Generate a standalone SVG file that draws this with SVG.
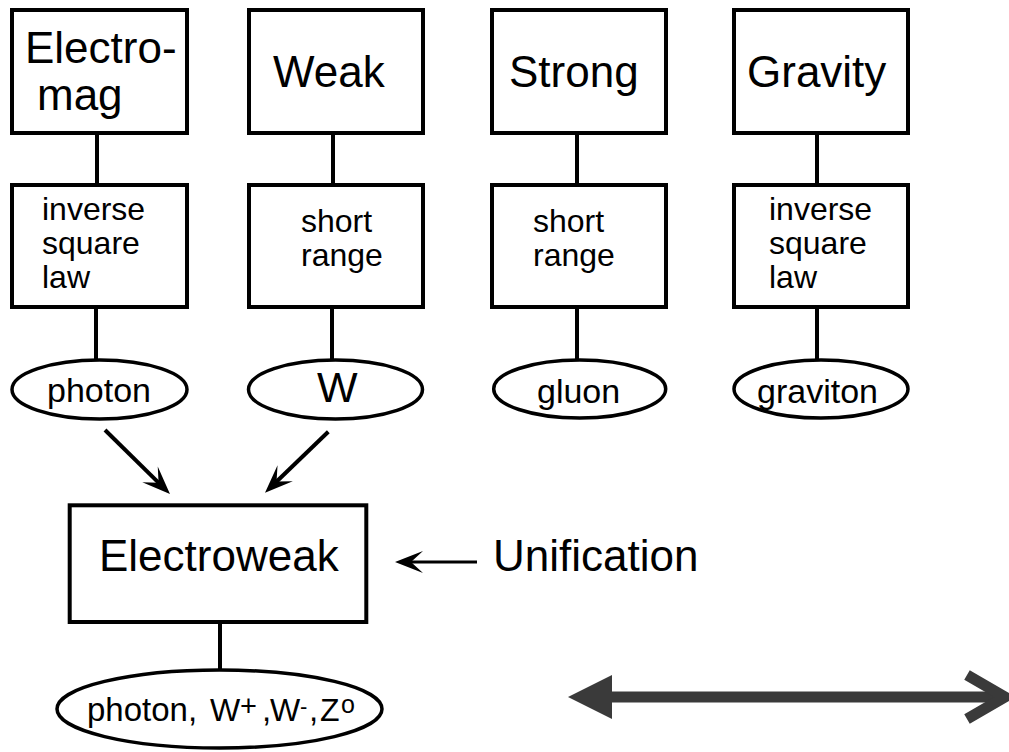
<svg xmlns="http://www.w3.org/2000/svg" width="1009" height="752" viewBox="0 0 1009 752">
  <style>
    text { font-family: "Liberation Sans", Arial, sans-serif; fill: #000; }
    .box { fill: #fff; stroke: #000; stroke-width: 4; }
    .oval { fill: #fff; stroke: #000; stroke-width: 3.5; }
    .link { stroke: #000; stroke-width: 4; fill: none; }
    .arrow { stroke: #000; stroke-width: 4; fill: none; marker-end: url(#head); }
    .title { font-size: 44px; }
    .note { font-size: 32px; }
    .particle { font-size: 34px; }
    .scale { stroke: #3a3a3a; stroke-width: 11; fill: none; }
  </style>
  <defs>
    <marker id="head" markerUnits="userSpaceOnUse" viewBox="-30 -12 32 24" markerWidth="32" markerHeight="24" refX="-14" refY="0" orient="auto">
      <path d="M0,0 L-28,-11 L-16,0 L-28,11 Z" fill="#000"/>
    </marker>
  </defs>

  <rect width="1009" height="752" fill="#fff"/>

  <!-- connectors -->
  <g id="connectors">
    <line class="link" x1="97" y1="133" x2="97" y2="185"/>
    <line class="link" x1="333" y1="133" x2="333" y2="185"/>
    <line class="link" x1="577" y1="133" x2="577" y2="185"/>
    <line class="link" x1="817" y1="133" x2="817" y2="185"/>
    <line class="link" x1="96" y1="307" x2="96" y2="360"/>
    <line class="link" x1="332" y1="307" x2="332" y2="360"/>
    <line class="link" x1="577" y1="307" x2="577" y2="360"/>
    <line class="link" x1="817" y1="307" x2="817" y2="360"/>
    <line class="link" x1="220" y1="622" x2="220" y2="670"/>
    <line class="arrow" x1="105" y1="430" x2="160" y2="484.2"/>
    <line class="arrow" x1="328.3" y1="431.7" x2="275.1" y2="483"/>
    <line class="arrow" x1="477" y1="562" x2="409" y2="562" style="stroke-width:3"/>
  </g>

  <!-- force boxes -->
  <g id="electromag">
    <rect class="box" x="12" y="10" width="175" height="123"/>
    <text class="title" x="25" y="63">Electro-</text>
    <text class="title" x="37" y="110">mag</text>
  </g>
  <g id="weak">
    <rect class="box" x="249" y="10" width="174" height="123"/>
    <text class="title" x="273" y="87">Weak</text>
  </g>
  <g id="strong">
    <rect class="box" x="492" y="10" width="174" height="123"/>
    <text class="title" x="509" y="87">Strong</text>
  </g>
  <g id="gravity">
    <rect class="box" x="734" y="10" width="174" height="123"/>
    <text class="title" x="747" y="87">Gravity</text>
  </g>

  <!-- range boxes -->
  <g id="em-range">
    <rect class="box" x="12" y="185" width="175" height="122"/>
    <text class="note" x="42" y="220">inverse</text>
    <text class="note" x="42" y="254">square</text>
    <text class="note" x="42" y="288">law</text>
  </g>
  <g id="weak-range">
    <rect class="box" x="249" y="185" width="174" height="122"/>
    <text class="note" x="301" y="232">short</text>
    <text class="note" x="301" y="266">range</text>
  </g>
  <g id="strong-range">
    <rect class="box" x="492" y="185" width="174" height="122"/>
    <text class="note" x="533" y="232">short</text>
    <text class="note" x="533" y="266">range</text>
  </g>
  <g id="gravity-range">
    <rect class="box" x="734" y="185" width="174" height="122"/>
    <text class="note" x="769" y="220">inverse</text>
    <text class="note" x="769" y="254">square</text>
    <text class="note" x="769" y="288">law</text>
  </g>

  <!-- carrier particles -->
  <g id="photon">
    <ellipse class="oval" cx="99.5" cy="389.5" rx="87.5" ry="29.5"/>
    <text class="particle" x="47" y="402">photon</text>
  </g>
  <g id="w-boson">
    <ellipse class="oval" cx="335.5" cy="389.5" rx="87" ry="29.5"/>
    <text class="title" x="317" y="402" style="font-size:43px">W</text>
  </g>
  <g id="gluon">
    <ellipse class="oval" cx="579.7" cy="389" rx="86" ry="29"/>
    <text class="particle" x="537" y="402.5">gluon</text>
  </g>
  <g id="graviton">
    <ellipse class="oval" cx="821" cy="389" rx="87" ry="29"/>
    <text class="particle" x="757" y="402.5">graviton</text>
  </g>

  <!-- unified force -->
  <g id="electroweak">
    <rect class="box" x="69.7" y="505.3" width="296.6" height="116.7"/>
    <text class="title" x="99" y="571">Electroweak</text>
  </g>
  <g id="electroweak-bosons">
    <ellipse class="oval" cx="219.5" cy="709" rx="162.5" ry="39"/>
    <text style="font-size:33px" y="721"><tspan x="87">photon,</tspan><tspan x="210" style="font-size:32px">W</tspan><tspan x="240" y="716" style="font-size:29px">+</tspan><tspan x="262" y="721">,</tspan><tspan x="270" style="font-size:32px">W</tspan><tspan x="300" y="714" style="font-size:22px">-</tspan><tspan x="309" y="721">,</tspan><tspan x="320" style="font-size:32px">Z</tspan><tspan x="341" y="713" style="font-size:25px">o</tspan></text>
  </g>

  <g id="unification">
    <text class="title" x="493" y="571">Unification</text>
  </g>

  <!-- double-headed scale arrow -->
  <g id="scale-arrow">
    <line class="scale" x1="608" y1="697" x2="1004" y2="697"/>
    <polygon points="568,697 612,675 612,719" fill="#3a3a3a"/>
    <polyline class="scale" points="967,675 1005,697 967,719"/>
  </g>
</svg>
